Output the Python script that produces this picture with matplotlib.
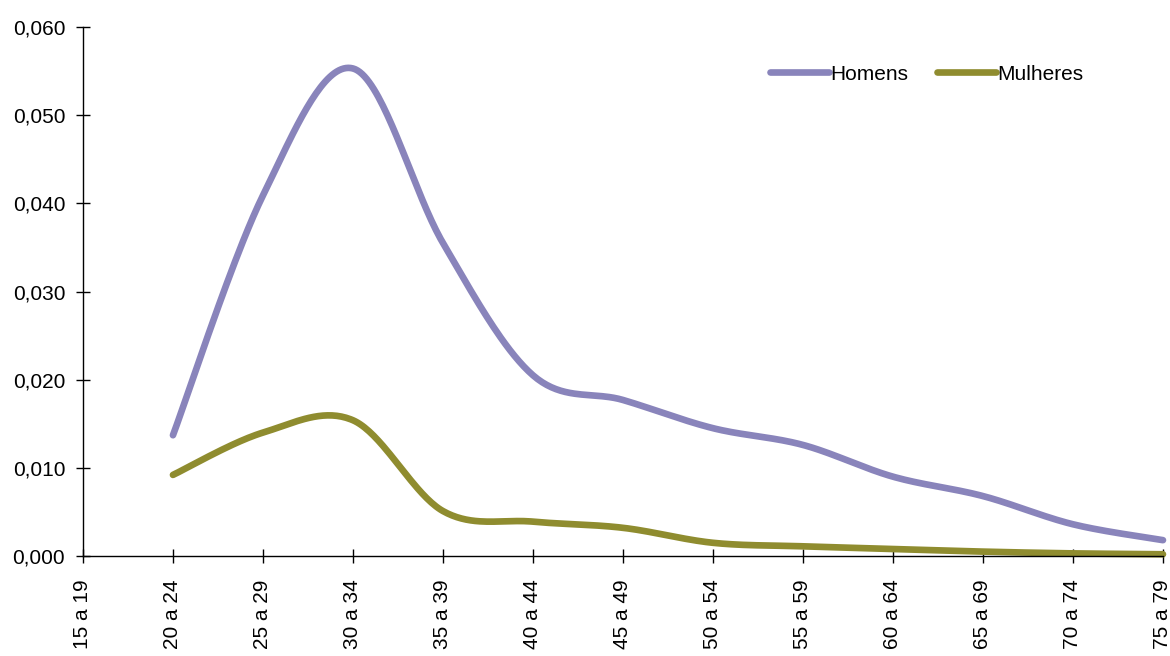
import numpy as np
import matplotlib
matplotlib.use("Agg")
import matplotlib.pyplot as plt
from matplotlib.ticker import FuncFormatter

categories = ["15 a 19", "20 a 24", "25 a 29", "30 a 34", "35 a 39", "40 a 44",
              "45 a 49", "50 a 54", "55 a 59", "60 a 64", "65 a 69", "70 a 74", "75 a 79"]
homens = [None, 0.0137, 0.0409, 0.0553, 0.0355, 0.0205, 0.0177, 0.0145,
          0.0126, 0.0090, 0.0068, 0.0036, 0.0018]
mulheres = [None, 0.0092, 0.0140, 0.0154, 0.0051, 0.0039, 0.0032, 0.0015,
            0.0011, 0.0008, 0.0005, 0.0003, 0.0002]

C_HOMENS = "#8984bb"
C_MULHERES = "#8f8c2f"
FS = 15

plt.rcParams["font.family"] = ["Liberation Sans", "DejaVu Sans"]


def smooth(xs, ys, n=40):
    """Cubic Bezier smoothing through the points (Catmull-Rom style)."""
    pts = np.column_stack([xs, ys]).astype(float)
    out = []
    m = len(pts)
    for i in range(m - 1):
        p0 = pts[max(i - 1, 0)]
        p1 = pts[i]
        p2 = pts[i + 1]
        p3 = pts[min(i + 2, m - 1)]
        c1 = p1 + (p2 - p0) / 6.0
        c2 = p2 - (p3 - p1) / 6.0
        t = np.linspace(0, 1, n)[:, None]
        seg = ((1 - t) ** 3) * p1 + 3 * ((1 - t) ** 2) * t * c1 + 3 * (1 - t) * t ** 2 * c2 + t ** 3 * p2
        if i > 0:
            seg = seg[1:]
        out.append(seg)
    out = np.vstack(out)
    return out[:, 0], out[:, 1]


fig = plt.figure(figsize=(11.7, 6.56), dpi=100)
ax = fig.add_axes([0.0709, 0.1524, 0.9231, 0.8064])

x = np.arange(len(categories))
for vals, col, lab in [(homens, C_HOMENS, "Homens"), (mulheres, C_MULHERES, "Mulheres")]:
    xi = [xx for xx, v in zip(x, vals) if v is not None]
    yi = [v for v in vals if v is not None]
    sx, sy = smooth(xi, yi)
    ax.plot(sx, sy, color=col, lw=4.8, solid_capstyle="round", label=lab, clip_on=False)

ax.set_xlim(0, len(categories) - 1)
ax.set_ylim(0, 0.060)
ax.set_yticks(np.arange(0, 0.0601, 0.010))
ax.yaxis.set_major_formatter(FuncFormatter(lambda v, p: f"{v:.3f}".replace(".", ",")))
ax.set_xticks(x)
ax.set_xticklabels(categories, rotation=90)

for s in ["top", "right"]:
    ax.spines[s].set_visible(False)
for s in ["left", "bottom"]:
    ax.spines[s].set_linewidth(1.0)
    ax.spines[s].set_color("black")
ax.tick_params(axis="both", direction="inout", length=9.5, width=1.0, labelsize=FS, colors="black")
ax.tick_params(axis="x", pad=12)
ax.tick_params(axis="y", pad=8)

leg = ax.legend(loc="center left", bbox_to_anchor=(770 / 1170, 1 - 74 / 656),
                bbox_transform=fig.transFigure, ncol=2, frameon=False,
                fontsize=FS, handlelength=2.83, handletextpad=0.05, columnspacing=1.4,
                borderaxespad=0, borderpad=0)

fig.savefig("out.png", dpi=100)
